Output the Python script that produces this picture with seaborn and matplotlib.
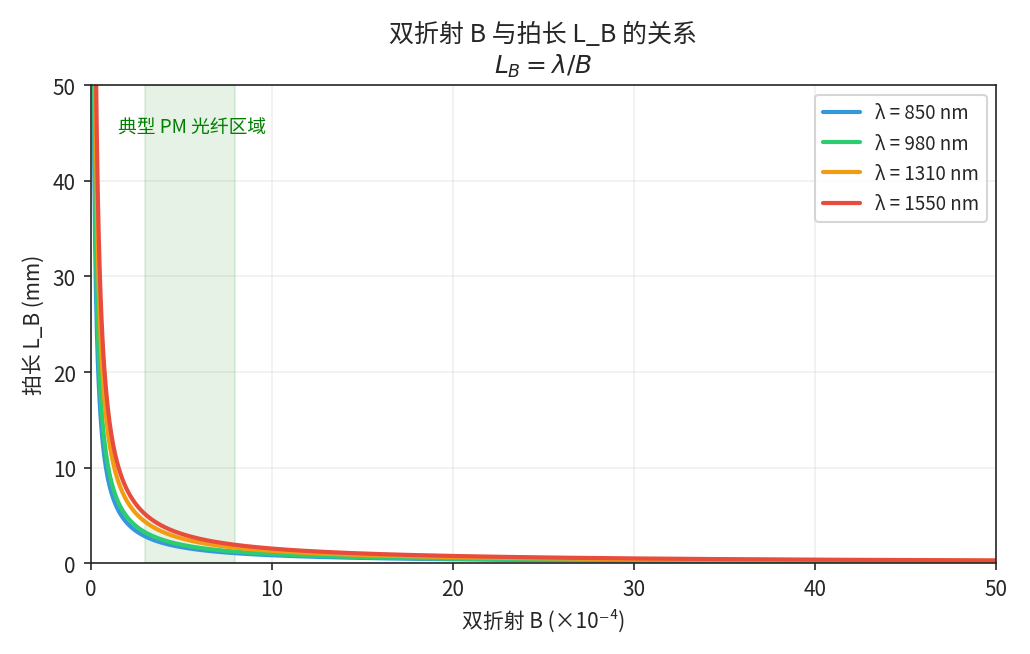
import numpy as np
import matplotlib
matplotlib.use("Agg")
import matplotlib.pyplot as plt
import seaborn as sns

sns.set_style("ticks")
plt.rcParams['font.family'] = ['Noto Sans CJK SC', 'DejaVu Sans']
plt.rcParams['axes.unicode_minus'] = False

wavelengths_nm = [850, 980, 1310, 1550]
labels = ["λ = 850 nm", "λ = 980 nm", "λ = 1310 nm", "λ = 1550 nm"]
colors = ["#3498db", "#2ecc71", "#f39c12", "#e74c3c"]
B = np.linspace(0.1, 50, 1000)  # ×10^-4

fig, ax = plt.subplots(figsize=(1030/150, 655/150), dpi=150)
ax.axvspan(3, 8, color="green", alpha=0.1)
ax.text(1.5, 45, "典型 PM 光纤区域", color="green", fontsize=9)
for lam, lab, c in zip(wavelengths_nm, labels, colors):
    LB = lam * 1e-2 / B  # mm
    sns.lineplot(x=B, y=LB, ax=ax, color=c, lw=2, label=lab)
ax.set_xlim(0, 50)
ax.set_ylim(0, 50)
ax.grid(True, alpha=0.3)
ax.set_xlabel("双折射 B (×10⁻⁴)")
ax.set_ylabel("拍长 L_B (mm)")
ax.set_title("双折射 B 与拍长 L_B 的关系\n$L_B = \\lambda/B$")
ax.legend(loc="upper right", fontsize=9)
fig.tight_layout()
fig.savefig("out.png", dpi=150)
